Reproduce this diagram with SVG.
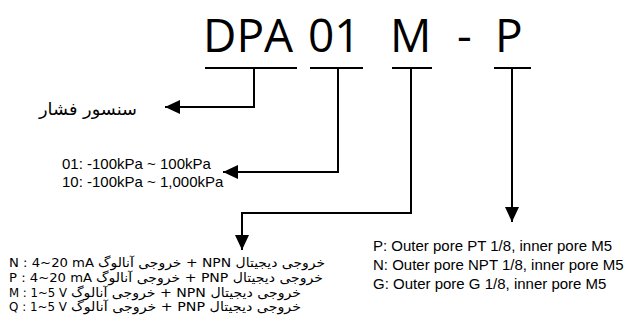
<svg xmlns="http://www.w3.org/2000/svg" width="627" height="329" viewBox="0 0 627 329">
<style>
.code{font-family:"Open Sans","Liberation Sans",sans-serif;font-size:46px;fill:#000}
.ul{stroke:#000;stroke-width:2;fill:none}
.conn{stroke:#000;stroke-width:2;fill:none;marker-end:url(#ah)}
.lat{font-family:"Liberation Sans",Arial,sans-serif;font-size:15px;fill:#000}
.fa{font-family:"DejaVu Sans","Noto Sans",sans-serif;font-size:12.5px;fill:#000}
.fa2{font-family:"DejaVu Sans","Noto Sans",sans-serif;font-size:17px;fill:#000}
</style>
<defs>
<marker id="ah" markerUnits="userSpaceOnUse" markerWidth="16" markerHeight="14" refX="15" refY="7" orient="auto">
<path d="M0,0 L15,7 L0,14 Z" fill="#000"/>
</marker>
</defs>
<rect width="627" height="329" fill="#fff"/>
<g id="seg-dpa">
<text class="code" x="203" y="52">DPA</text>
<line class="ul" x1="205" y1="68" x2="297" y2="68"/>
</g>
<g id="seg-range">
<text class="code" x="308" y="52">01</text>
<line class="ul" x1="310" y1="68" x2="363" y2="68"/>
</g>
<g id="seg-output">
<text class="code" x="390" y="52">M</text>
<line class="ul" x1="392" y1="68" x2="432" y2="68"/>
</g>
<g id="seg-dash">
<text class="code" x="457" y="52">-</text>
</g>
<g id="seg-port">
<text class="code" x="495" y="52">P</text>
<line class="ul" x1="494" y1="68" x2="531" y2="68"/>
</g>
<g id="connectors">
<polyline class="conn" points="254,68 254,107 165,107"/>
<polyline class="conn" points="338,68 338,172 223,172"/>
<polyline class="conn" points="411,68 411,213 242,213 242,250"/>
<polyline class="conn" points="512,68 512,222"/>
</g>
<g id="label-sensor">
<text class="fa2" x="137" y="115" direction="rtl" text-anchor="start" textLength="98" lengthAdjust="spacingAndGlyphs">سنسور فشار</text>
</g>
<g id="label-range">
<text class="lat" x="62" y="169">01: -100kPa ~ 100kPa</text>
<text class="lat" x="62" y="187">10: -100kPa ~ 1,000kPa</text>
</g>
<g id="label-output">
<text class="fa" x="9" y="267" textLength="85" lengthAdjust="spacingAndGlyphs">N : 4~20 mA</text>
<text class="fa" x="98" y="267" direction="rtl" text-anchor="end" textLength="227" lengthAdjust="spacingAndGlyphs">خروجی دیجیتال NPN + خروجی آنالوگ</text>
<text class="fa" x="9" y="282" textLength="83" lengthAdjust="spacingAndGlyphs">P : 4~20 mA</text>
<text class="fa" x="96" y="282" direction="rtl" text-anchor="end" textLength="227" lengthAdjust="spacingAndGlyphs">خروجی دیجیتال PNP + خروجی آنالوگ</text>
<text class="fa" x="9" y="297" textLength="58" lengthAdjust="spacingAndGlyphs">M : 1~5 V</text>
<text class="fa" x="71" y="297" direction="rtl" text-anchor="end" textLength="230" lengthAdjust="spacingAndGlyphs">خروجی دیجیتال NPN + خروجی آنالوگ</text>
<text class="fa" x="9" y="311" textLength="58" lengthAdjust="spacingAndGlyphs">Q : 1~5 V</text>
<text class="fa" x="71" y="311" direction="rtl" text-anchor="end" textLength="230" lengthAdjust="spacingAndGlyphs">خروجی دیجیتال PNP + خروجی آنالوگ</text>
</g>
<g id="label-port">
<text class="lat" x="373" y="251">P: Outer pore PT 1/8, inner pore M5</text>
<text class="lat" x="373" y="270">N: Outer pore NPT 1/8, inner pore M5</text>
<text class="lat" x="373" y="289">G: Outer pore G 1/8, inner pore M5</text>
</g>
</svg>
